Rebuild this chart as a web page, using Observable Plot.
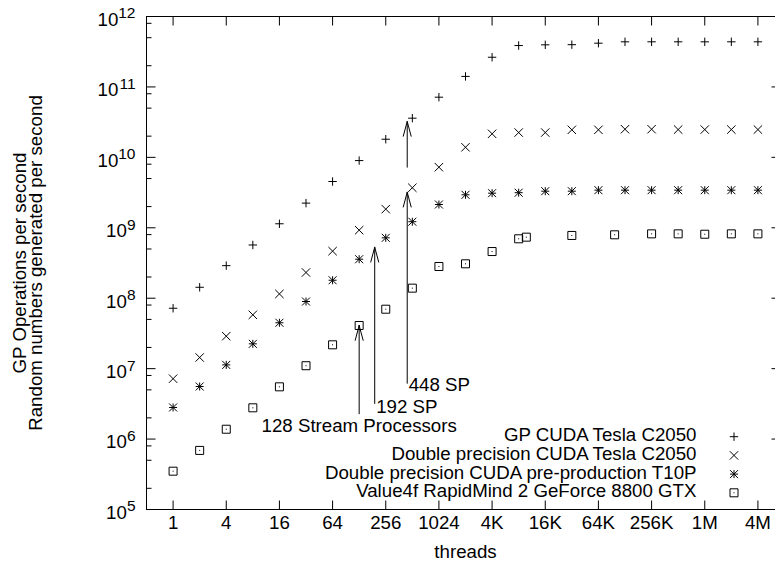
<!DOCTYPE html>
<html><head><meta charset="utf-8">
<script src="https://cdn.jsdelivr.net/npm/d3@7"></script>
<script src="https://cdn.jsdelivr.net/npm/@observablehq/plot@0.6"></script>
<style>html,body{margin:0;padding:0;background:#fff;} #chart{width:775px;height:567px;overflow:hidden;}</style>
</head><body><div id="chart"></div>
<script>
// ---- data ----
const threads = [1,2,4,8,16,32,64,128,256,512,1024,2048,4096,8192,16384,32768,65536,131072,262144,524288,1048576,2097152,4194304];
const gpCudaC2050 = [7.2e7,1.43e8,2.9e8,5.7e8,1.14e9,2.24e9,4.54e9,9.0e9,1.81e10,3.6e10,7.15e10,1.41e11,2.64e11,3.87e11,3.96e11,3.98e11,4.18e11,4.37e11,4.37e11,4.37e11,4.37e11,4.37e11,4.37e11];
const dpCudaC2050 = [7.2e6,1.44e7,2.89e7,5.81e7,1.15e8,2.32e8,4.66e8,9.25e8,1.84e9,3.7e9,7.25e9,1.39e10,2.16e10,2.25e10,2.25e10,2.46e10,2.46e10,2.51e10,2.51e10,2.48e10,2.48e10,2.48e10,2.48e10];
const dpCudaT10P = [2.81e6,5.58e6,1.13e7,2.25e7,4.48e7,8.98e7,1.8e8,3.58e8,7.2e8,1.22e9,2.14e9,2.94e9,3.1e9,3.15e9,3.31e9,3.31e9,3.42e9,3.42e9,3.42e9,3.42e9,3.42e9,3.42e9,3.42e9];
const rapidThreads = [1,2,4,8,16,32,64,128,256,512,1024,2048,4096,8192,10000,32768,100000,262144,524288,1048576,2097152,4194304];
const rapidMind8800 = [3.5e5,6.9e5,1.38e6,2.78e6,5.52e6,1.1e7,2.18e7,4.1e7,6.98e7,1.39e8,2.82e8,3.08e8,4.6e8,6.98e8,7.36e8,7.78e8,7.95e8,8.2e8,8.2e8,8.1e8,8.2e8,8.2e8];
const seriesNames = ["GP CUDA Tesla C2050","Double precision CUDA Tesla C2050","Double precision CUDA pre-production T10P","Value4f RapidMind 2 GeForce 8800 GTX"];

const xTickValues = [1,4,16,64,256,1024,4096,16384,65536,262144,1048576,4194304];
const xTickLabels = ["1","4","16","64","256","1024","4K","16K","64K","256K","1M","4M"];
const yTickExponents = [5,6,7,8,9,10,11,12];
const yMinorMultipliers = [2,5,8];

const annLabels = ["128 Stream Processors","192 SP","448 SP"];
const annX = [128,192,448];
const annLabelY = [1.51e6,2.88e6,5.9e6];
const arrowX = [128,192,448,448];
const arrowFrom = [2.29e6,3.2e6,6.2e6,7.25e9];
const arrowTo = [4.1e7,5.3e8,3.2e9,3.23e10];

// ---- derived tables ----
const mk = (xs, ys) => xs.map((x,i)=>({x, y: ys[i]}));
const yMajor = yTickExponents.map(e => 10**e);
const yMinor = yTickExponents.slice(0,-1).flatMap(e => yMinorMultipliers.map(m => m*10**e));
const exp2 = yTickExponents.filter(e => e >= 10);
const exp1 = yTickExponents.filter(e => e < 10);
const arrows = arrowX.map((x,i)=>({x, from: arrowFrom[i], to: arrowTo[i]}));
const anns = annX.map((x,i)=>({x, y: annLabelY[i], label: annLabels[i]}));

// ---- symbols ----
const H = 4.2;
const plusSym = {draw(c){c.moveTo(-H,0);c.lineTo(H,0);c.moveTo(0,-H);c.lineTo(0,H);}};
const timesSym = {draw(c){const h=4.2;c.moveTo(-h,-h);c.lineTo(h,h);c.moveTo(-h,h);c.lineTo(h,-h);}};
const starSym = {draw(c){const h=4;c.moveTo(-h,0);c.lineTo(h,0);c.moveTo(0,-h);c.lineTo(0,h);c.moveTo(-h,-h);c.lineTo(h,h);c.moveTo(-h,h);c.lineTo(h,-h);}};
const boxSym = {draw(c){const h=4;c.moveTo(-h,-h);c.lineTo(h,-h);c.lineTo(h,h);c.lineTo(-h,h);c.closePath();c.moveTo(-0.5,0);c.lineTo(0.5,0);}};
const symbols = [plusSym, timesSym, starSym, boxSym];
const tick = (dx,dy) => ({draw(c){c.moveTo(0,0);c.lineTo(dx,dy);}});

const S = {stroke:"black", fill:"none", strokeWidth:1};
const legendRowDy = [-72.8,-54.1,-35.4,-16.7];

const chart = Plot.plot({
  width: 775, height: 567,
  marginLeft: 146, marginRight: -9, marginTop: 16, marginBottom: 58,
  x: {type:"log", base:2, domain:[0.5, 8388608], axis:null},
  y: {type:"log", domain:[1e5, 1e12], axis:null},
  style: {fontFamily:'"Liberation Sans", Arial, Helvetica, sans-serif', fontSize:"18.7px", background:"white", color:"black", overflow:"hidden"},
  marks: [
    Plot.frame({stroke:"black"}),
    // ticks
    Plot.dot(xTickValues, {x:d=>d, frameAnchor:"bottom", symbol:tick(0,-9), ...S}),
    Plot.dot(xTickValues, {x:d=>d, frameAnchor:"top", symbol:tick(0,9), ...S}),
    Plot.dot(yMajor, {y:d=>d, frameAnchor:"left", symbol:tick(9,0), ...S}),
    Plot.dot(yMinor, {y:d=>d, frameAnchor:"left", symbol:tick(5,0), ...S}),
    Plot.dot(yMajor, {y:d=>d, frameAnchor:"right", symbol:tick(-13,0), ...S}),
    // x tick labels
    Plot.text(xTickValues, {x:d=>d, frameAnchor:"bottom", textAnchor:"middle", text:(d,i)=>xTickLabels[i], dy:19, fill:"black"}),
    // y tick labels 10^n
    Plot.text(exp2, {y:e=>10**e, frameAnchor:"left", text:()=>"10", textAnchor:"end", dx:-28.2, dy:3.4, fill:"black"}),
    Plot.text(exp1, {y:e=>10**e, frameAnchor:"left", text:()=>"10", textAnchor:"end", dx:-19.6, dy:3.4, fill:"black"}),
    Plot.text(yTickExponents, {y:e=>10**e, frameAnchor:"left", text:e=>String(e), textAnchor:"end", dx:-11, dy:-3, fontSize:15.5, fill:"black"}),
    // axis titles
    Plot.text(["threads"], {frameAnchor:"bottom", textAnchor:"middle", text:d=>d, dy:48, fill:"black"}),
    Plot.text(["GP Operations per second\nRandom numbers generated per second"], {frameAnchor:"left", textAnchor:"middle", text:d=>d, rotate:-90, lineHeight:0.893, dx:-118, fill:"black"}),
    // data
    Plot.dot(mk(threads, gpCudaC2050), {x:"x", y:"y", symbol:plusSym, ...S}),
    Plot.dot(mk(threads, dpCudaC2050), {x:"x", y:"y", symbol:timesSym, ...S}),
    Plot.dot(mk(threads, dpCudaT10P), {x:"x", y:"y", symbol:starSym, ...S}),
    Plot.dot(mk(rapidThreads, rapidMind8800), {x:"x", y:"y", symbol:boxSym, ...S}),
    // annotations
    Plot.arrow(arrows, {x:"x", y1:"from", y2:"to", headLength:23, headAngle:30, stroke:"black", strokeWidth:1}),
    Plot.text(anns.slice(0,1), {x:"x", y:"y", text:"label", textAnchor:"middle", fill:"black"}),
    Plot.text(anns.slice(1), {x:"x", y:"y", text:"label", textAnchor:"start", dx:1.5, fill:"black"}),
    // legend
    Plot.text([seriesNames.join("\n")], {frameAnchor:"bottom-right", text:d=>d, textAnchor:"end", lineAnchor:"bottom", lineHeight:1.0, dx:-88, dy:-12.3, fill:"black"}),
    ...symbols.map((sym,i)=>Plot.dot([seriesNames[i]], {frameAnchor:"bottom-right", symbol:sym, dx:-50.5, dy:legendRowDy[i], ...S}))
  ]
});
document.getElementById("chart").appendChild(chart);
</script></body></html>
